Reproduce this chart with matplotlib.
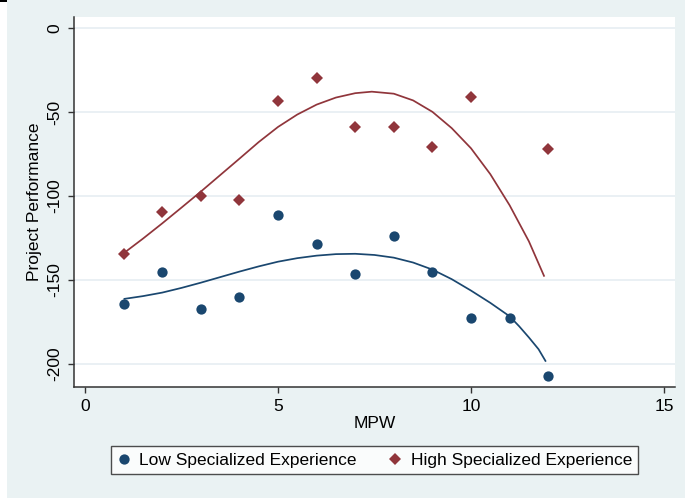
import matplotlib
matplotlib.use("Agg")
import matplotlib.pyplot as plt
from matplotlib.patches import Rectangle
from matplotlib.lines import Line2D

plt.rcParams['font.family'] = ['Liberation Sans', 'DejaVu Sans']

# Observed project performance by MPW
low_x = [1, 2, 3, 4, 5, 6, 7, 8, 9, 10, 11, 12]
low_y = [-164.5, -145.2, -167.3, -160.3, -111.1, -128.3, -146.4, -123.6, -145.0, -172.4, -172.8, -207.3]
high_x = [1, 2, 3, 4, 5, 6, 7, 8, 9, 10, 12]
high_y = [-134.7, -109.7, -100.0, -102.6, -43.3, -29.8, -58.9, -58.9, -70.6, -40.9, -72.0]

# Predicted performance curves
low_fit_x = [1.0, 1.5, 2.0, 2.5, 3.0, 3.5, 4.0, 4.5, 5.0, 5.5, 6.0, 6.5, 7.0,
             7.5, 8.0, 8.5, 9.0, 9.5, 10.0, 10.5, 11.0, 11.25, 11.5, 11.75, 11.94]
low_fit_y = [-161.3, -159.6, -157.5, -154.7, -151.6, -148.3, -145.0, -141.9, -139.1,
             -137.0, -135.5, -134.6, -134.4, -135.1, -136.7, -139.6, -143.8, -149.5,
             -156.3, -163.6, -171.6, -177.6, -184.2, -191.2, -198.6]
high_fit_x = [1.0, 1.5, 2.0, 2.5, 3.0, 3.5, 4.0, 4.5, 5.0, 5.5, 6.0, 6.5, 7.0, 7.43,
              8.0, 8.5, 9.0, 9.5, 10.0, 10.5, 11.0, 11.5, 11.9]
high_fit_y = [-134.1, -125.4, -116.3, -106.9, -97.4, -87.6, -77.8, -67.9, -58.9, -51.5,
              -45.6, -41.4, -38.8, -37.9, -39.1, -43.1, -49.9, -59.6, -71.6, -87.0,
              -105.5, -127.0, -148.0]

x_ticks = [0, 5, 10, 15]
y_ticks = [0, -50, -100, -150, -200]

navy = "#1A476F"
maroon = "#90353B"
bg = "#EAF2F3"
fs = 12.5

W, H = 685, 498
fig = plt.figure(figsize=(W / 100, H / 100), dpi=100)
fig.patch.set_facecolor(bg)

# thin white margin on the left with a short dark rule at the top
fig.patches.append(Rectangle((0, 0), 7 / W, 1, transform=fig.transFigure,
                             facecolor="white", edgecolor="none", zorder=0))
fig.patches.append(Rectangle((0, 1 - 2 / H), 7 / W, 2 / H, transform=fig.transFigure,
                             facecolor="black", edgecolor="none", zorder=1))

ax = fig.add_axes([74 / W, 1 - 387 / H, (675 - 74) / W, (387 - 17) / H])
ax.set_facecolor("white")

x_per_px = 1 / 38.6
ax.set_xlim(0 - 11 * x_per_px, 15 + 11 * x_per_px)
ax.set_ylim(-200 - 23 * 50 / 84, 0 + 11 * 50 / 84)

for y in y_ticks:
    ax.axhline(y, color="#E6EEF2", lw=1.2, zorder=0.5)

ax.plot(low_fit_x, low_fit_y, color=navy, lw=1.25, solid_capstyle="butt",
        solid_joinstyle="round", zorder=2)
ax.plot(high_fit_x, high_fit_y, color=maroon, lw=1.25, solid_capstyle="butt",
        solid_joinstyle="round", zorder=2)
ax.plot(low_x, low_y, "o", color=navy, ms=7.4, mew=0, zorder=3)
ax.plot(high_x, high_y, "D", color=maroon, ms=6.4, mew=0, zorder=3)

ax.set_xticks(x_ticks)
ax.set_yticks(y_ticks)
ax.set_xticklabels([str(v) for v in x_ticks], fontsize=fs)
ax.set_yticklabels([str(v) for v in y_ticks], fontsize=fs, rotation=90, va="center")
ax.tick_params(axis="both", direction="out", length=4.5, width=1, color="#333333", pad=4)

for side in ("top", "right"):
    ax.spines[side].set_visible(False)
for side in ("left", "bottom"):
    ax.spines[side].set_color("#333333")
    ax.spines[side].set_linewidth(1.1)

ax.set_xlabel("MPW", fontsize=fs)
ax.set_ylabel("Project Performance", fontsize=fs)
ax.xaxis.set_label_coords(0.5, (387 - 416) / 370)
ax.yaxis.set_label_coords((42 - 74) / 601, 0.5)

handles = [
    Line2D([], [], ls="none", marker="o", color=navy, ms=7.4, mew=0),
    Line2D([], [], ls="none", marker="D", color=maroon, ms=6.4, mew=0),
]
leg = fig.legend(handles, ["Low Specialized Experience", "High Specialized Experience"],
                 loc="center", bbox_to_anchor=(374.5 / W, 1 - 460 / H), ncol=2,
                 fontsize=fs, frameon=True, fancybox=False, handlelength=0.8,
                 handletextpad=0.5, columnspacing=1.8, borderpad=0.35, borderaxespad=0)
leg.get_frame().set_edgecolor("#222222")
leg.get_frame().set_linewidth(1.0)
leg.get_frame().set_facecolor("white")

fig.savefig("out.png", dpi=100, facecolor=fig.get_facecolor())
